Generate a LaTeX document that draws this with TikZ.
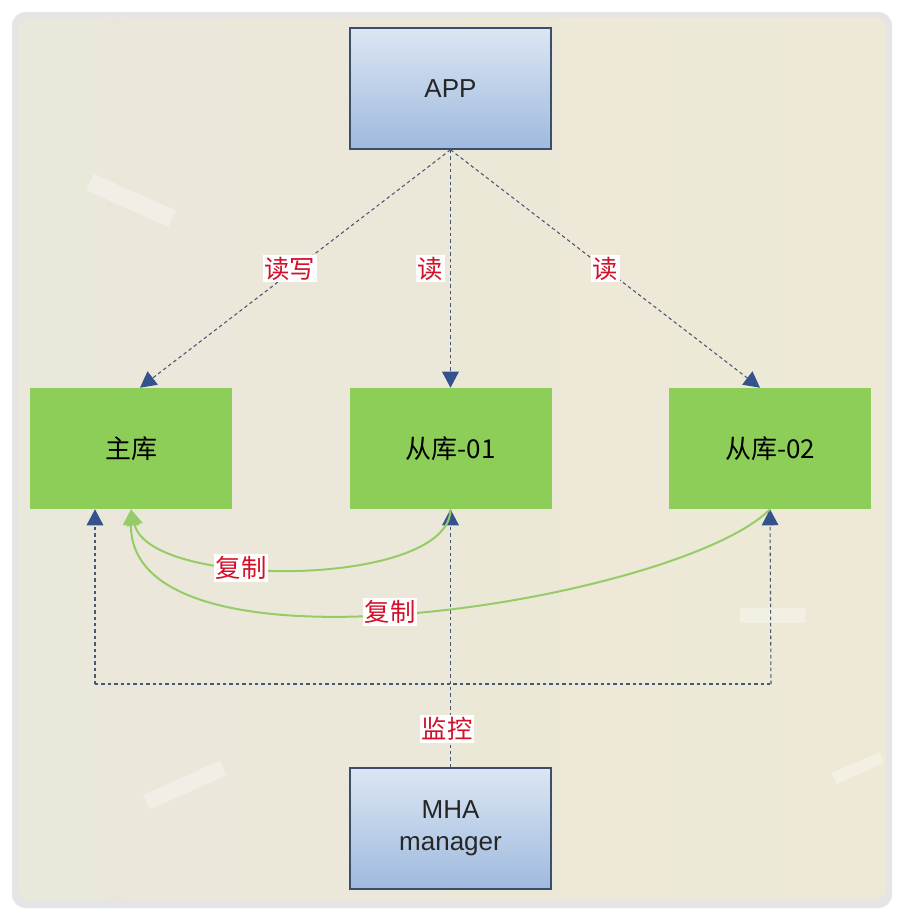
\documentclass[tikz,border=0pt]{standalone}
\usepackage{fontspec}
\setmainfont{Liberation Sans}
\newfontfamily\cjk{Noto Sans CJK SC}
\usetikzlibrary{arrows.meta,calc}
\definecolor{bgbeige}{RGB}{234,231,219}
\definecolor{navy}{RGB}{60,78,110}
\definecolor{boxtop}{RGB}{220,230,243}
\definecolor{boxbot}{RGB}{158,186,222}
\definecolor{dbgreen}{RGB}{140,206,88}
\definecolor{dashc}{RGB}{70,88,118}
\definecolor{tipblue}{RGB}{52,82,140}
\definecolor{repl}{RGB}{150,204,104}
\definecolor{lblred}{RGB}{210,16,42}
\tikzset{
  bluebox/.style={draw=navy, line width=1.2pt, top color=boxtop, bottom color=boxbot,
    minimum width=150.75pt, minimum height=90.75pt, inner sep=0pt, align=center,
    font=\fontsize{19.5}{22}\selectfont, text=black!85},
  dbbox/.style={fill=dbgreen, minimum width=151.5pt, minimum height=90.75pt, inner sep=0pt,
    font=\cjk\fontsize{19.5}{21}\selectfont, text=black},
  dashline/.style={draw=dashc, line width=0.8pt, dash pattern=on 2.6pt off 2.2pt},
  bluetip/.style={-{Triangle[width=12.5pt,length=12pt,color=tipblue,fill=tipblue]}},
  repline/.style={draw=repl, line width=1.5pt, -{Triangle[width=12pt,length=12pt,color=repl,fill=repl]}},
  lbl/.style={fill=white, text=lblred, inner sep=1.5pt, font=\cjk\fontsize{19}{21}\selectfont},
  deco/.style={fill=white, opacity=0.3}
}
\begin{document}
\begin{tikzpicture}[x=0.75pt,y=-0.75pt]
\useasboundingbox (0,0) rectangle (904,918);
% page
\fill[white] (0,0) rectangle (904,918);
\fill[black!18, rounded corners=10pt] (14,15) rectangle (890,906);
\fill[black!10, rounded corners=10pt] (12,12) rectangle (892,908);
\shade[left color=bgbeige, right color={rgb,255:red,238;green,233;blue,214}, rounded corners=8pt] (18,18) rectangle (886,900);
% faint decorations
\fill[deco, rotate around={-24:(130,200)}] (86,191) rectangle (176,209);
\fill[deco] (740,608) rectangle (805,623);
\fill[deco, rotate around={24:(185,785)}] (143,777) rectangle (227,793);
\fill[deco, rotate around={24:(858,768)}] (832,762) rectangle (884,774);
% nodes
\node[bluebox] (app) at (450.5,88.5) {APP};
\node[dbbox] (m) at (131,448.5) {主库};
\node[dbbox] (s1) at (450.5,448.5) {从库-01};
\node[dbbox] (s2) at (770,448.5) {从库-02};
\node[bluebox, font=\fontsize{19.5}{24}\selectfont] (mha) at (450.5,828.5) {MHA\\manager};
% read/write
\draw[dashline, bluetip] (app.south) -- ([xshift=6.75pt]m.north) node[lbl, pos=0.5, xshift=-4pt] {读写};
\draw[dashline, bluetip] (app.south) -- (s1.north) node[lbl, pos=0.5, xshift=-15pt] {读};
\draw[dashline, bluetip] (app.south) -- ([xshift=-7.5pt]s2.north) node[lbl, pos=0.5] {读};
% monitor
\coordinate (jL) at (95,684);
\coordinate (jR) at (771,684);
\draw[dashline] (jL) -- (jR);
\draw[dashline, bluetip] (jL) -- ([xshift=-27pt]m.south);
\draw[dashline, bluetip] (jR) -- (s2.south);
\draw[dashline, bluetip] (mha.north) -- (s1.south);
\node[lbl] (mon) at (447,729) {监控};
% replication
\draw[repline] (s1.south) .. controls (450,588) and (150,590) .. (m.south);
\draw[repline] (s2.south) .. controls (680,600) and (130,690) .. (m.south);
\node[lbl] (r1) at (241,568) {复制};
\node[lbl] (r2) at (390,612) {复制};
\end{tikzpicture}
\end{document}
